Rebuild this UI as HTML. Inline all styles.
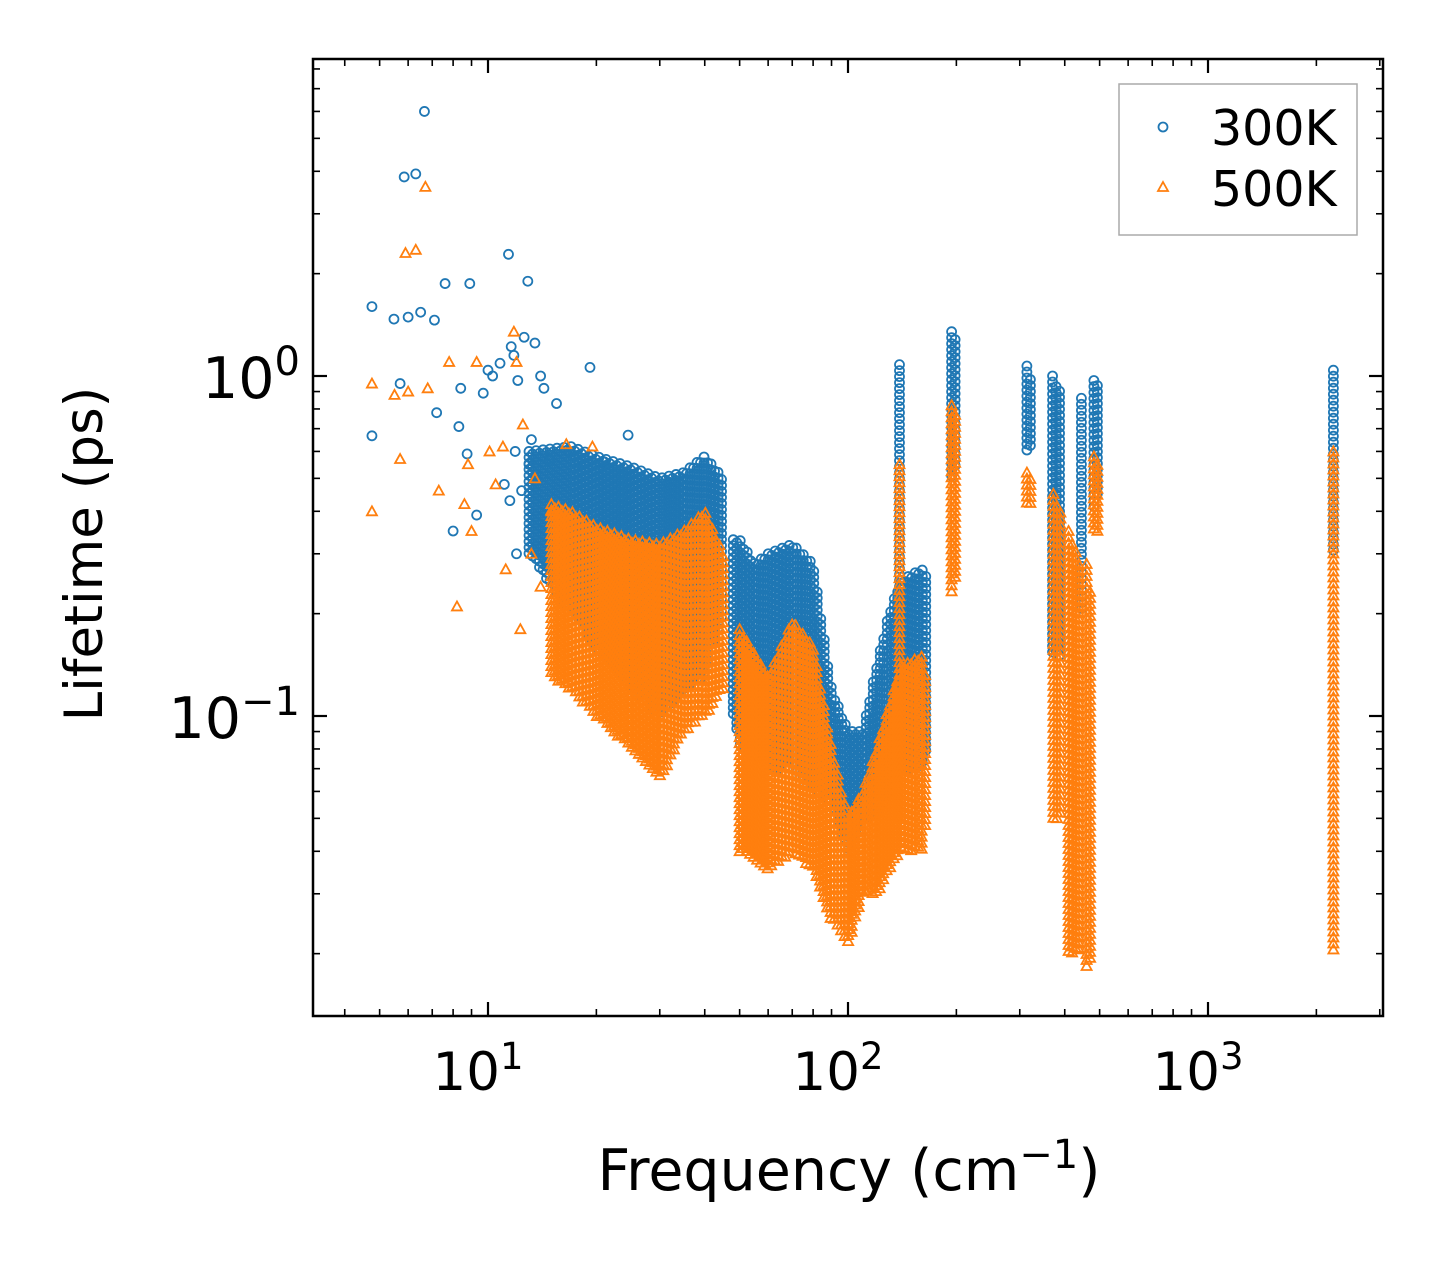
<!DOCTYPE html>
<html><head><meta charset="utf-8"><style>
body{margin:0;background:#fff;}
svg text{font-family:"DejaVu Sans","Liberation Sans",sans-serif;fill:#000;}
</style></head><body>
<svg id="chart" width="1442" height="1265" viewBox="0 0 1442 1265" xmlns="http://www.w3.org/2000/svg">
<rect width="1442" height="1265" fill="#fff"/>
<g id="marks"></g>
<g id="axes"></g>
<text transform="translate(102,554) rotate(-90)" text-anchor="middle" font-size="53">Lifetime (ps)</text>
<text x="849" y="1190" text-anchor="middle" font-size="57">Frequency (cm<tspan dy="-22" font-size="40">−1</tspan><tspan dy="22">)</tspan></text>
<g>
<rect x="1119" y="84" width="238" height="151" fill="#fff" stroke="#aaa" stroke-width="1.5"/>
<circle cx="1163" cy="127" r="4.5" fill="none" stroke="#1f77b4" stroke-width="1.8"/>
<text x="1211" y="145" font-size="49">300K</text>
<polygon points="1163,182 1168,191 1158,191" fill="none" stroke="#ff7f0e" stroke-width="1.8"/>
<text x="1211" y="206" font-size="49">500K</text>
</g>
</svg>
<script>
// sparse points [freq, lifetime]
const sparse300 = [[4.76,0.667],[4.76,1.6],[5.48,1.47],[6.0,1.49],[5.7,0.95],[5.85,3.85],[6.3,3.93],[6.66,6.0],[6.5,1.54],[7.1,1.46],[7.6,1.87],[7.2,0.78],[8.9,1.87],[8.4,0.92],[8.3,0.71],[8.0,0.35],[8.75,0.59],[9.3,0.39],[9.7,0.89],[10.0,1.04],[10.3,1.0],[10.8,1.09],[11.1,0.48],[11.4,2.28],[11.6,1.22],[11.8,1.15],[12.1,0.97],[12.9,1.9],[13.5,1.25],[12.6,1.3],[11.9,0.6],[12.4,0.46],[13.0,0.55],[14.0,1.0],[14.3,0.92],[15.5,0.83],[19.2,1.06],[24.5,0.67],[12.0,0.3],[11.5,0.43],[13.2,0.65],[14.8,0.57],[16.8,0.6],[18.5,0.55],[21,0.56]];
const sparse500 = [[4.76,0.95],[4.76,0.4],[5.5,0.88],[5.7,0.57],[6.0,0.9],[5.9,2.3],[6.3,2.35],[6.7,3.6],[6.8,0.92],[7.3,0.46],[7.8,1.1],[8.2,0.21],[8.6,0.42],[8.8,0.55],[9.0,0.35],[9.3,1.1],[10.1,0.6],[10.5,0.48],[11.0,0.62],[11.2,0.27],[11.8,1.35],[12.0,1.1],[12.3,0.18],[12.5,0.72],[13.2,0.3],[14.0,0.24],[16.5,0.63],[19.5,0.62],[13.5,0.5],[15,0.4]];
// dense bands: [freq, low, high]
const band300 = [[[13,0.3,0.6],[17,0.2,0.62],[20,0.16,0.58],[25,0.12,0.54],[30,0.1,0.5],[35,0.12,0.52],[40,0.13,0.58],[45,0.2,0.5]],
 [[48,0.1,0.33],[50,0.08,0.33],[55,0.075,0.28],[60,0.07,0.3],[70,0.07,0.32],[80,0.06,0.28],[90,0.055,0.12],[100,0.04,0.09],[110,0.05,0.09],[120,0.05,0.14],[130,0.06,0.2],[140,0.07,0.25],[160,0.07,0.27],[166,0.08,0.26]],
 [[139,0.2,1.08],[141,0.2,1.0]],[[194,0.5,1.35],[199,0.55,1.3]],[[314,0.6,1.07],[326,0.6,0.95]],[[370,0.15,1.0],[395,0.15,0.86]],[[445,0.2,0.86],[455,0.3,0.8]],[[482,0.4,0.97],[498,0.45,0.95]],[[2230,0.3,1.04],[2245,0.3,1.0]]];
const band500 = [[[15,0.13,0.42],[17,0.12,0.4],[20,0.1,0.36],[25,0.08,0.33],[30,0.065,0.32],[35,0.09,0.35],[40,0.1,0.4],[45,0.12,0.3]],
 [[50,0.04,0.18],[60,0.035,0.13],[70,0.04,0.19],[80,0.035,0.16],[90,0.025,0.08],[100,0.021,0.05],[110,0.03,0.06],[120,0.03,0.08],[140,0.04,0.14],[160,0.04,0.15],[165,0.05,0.13]],
 [[139,0.05,0.55],[141,0.05,0.5]],[[194,0.23,0.82],[199,0.25,0.78]],[[314,0.42,0.52],[326,0.42,0.5]],[[372,0.05,0.45],[395,0.05,0.38]],[[410,0.02,0.35],[440,0.02,0.28]],[[460,0.018,0.28],[475,0.02,0.22]],[[482,0.35,0.58],[498,0.35,0.55]],[[2230,0.02,0.6],[2245,0.02,0.55]]];
const xTicks = [10,100,1000];
const xTickLabels = ["1","2","3"];
const yTicks = [0.1,1];
const yTickLabels = ["−1","0"];

const L=313,R=1383,T=59,B=1016;
const X=f=>488+360*(Math.log10(f)-1);
const Y=v=>376-340*Math.log10(v);
const NS='http://www.w3.org/2000/svg';
const marks=document.getElementById('marks'), axes=document.getElementById('axes');
function circ(f,v){const c=document.createElementNS(NS,'circle');


c.setAttribute('cx',X(f));c.setAttribute('cy',Y(v));c.setAttribute('r',4.5);c.setAttribute('fill','none');c.setAttribute('stroke','#1f77b4');c.setAttribute('stroke-width',1.8);marks.appendChild(c);}
function tri(f,v){const p=document.createElementNS(NS,'polygon');


const x=X(f),y=Y(v);p.setAttribute('points',`${x},${y-5} ${x+5},${y+4} ${x-5},${y+4}`);p.setAttribute('fill','none');p.setAttribute('stroke','#ff7f0e');p.setAttribute('stroke-width',1.8);marks.appendChild(p);}
function drawBand(seg,fn){
 const x0=X(seg[0][0]),x1=X(seg[seg.length-1][0]);
 let col=0;
 for(let x=x0;x<=x1+0.01;x+=3.5){
  let i=0;while(i<seg.length-2&&X(seg[i+1][0])<x)i++;
  const a=seg[i],b=seg[i+1]||seg[i];const xa=X(a[0]),xb=X(b[0]);const t=xb>xa?(x-xa)/(xb-xa):0;
  const ylo=Y(a[1])+(Y(b[1])-Y(a[1]))*t, yhi=Y(a[2])+(Y(b[2])-Y(a[2]))*t;
  const f=Math.pow(10,(x-488)/360+1);
  for(let y=yhi+(col%2)*3;y<=ylo;y+=6){fn(f,Math.pow(10,(376-y)/340));}
  col++;
 }}
sparse300.forEach(p=>circ(p[0],p[1]));
band300.forEach(s=>drawBand(s,circ));
sparse500.forEach(p=>tri(p[0],p[1]));
band500.forEach(s=>drawBand(s,tri));
const fr=document.createElementNS(NS,'rect');


fr.setAttribute('x',L);fr.setAttribute('y',T);fr.setAttribute('width',R-L);fr.setAttribute('height',B-T);fr.setAttribute('fill','none');fr.setAttribute('stroke','#000');fr.setAttribute('stroke-width',2.5);axes.appendChild(fr);
function line(x1,y1,x2,y2,w){const l=document.createElementNS(NS,'line');


l.setAttribute('x1',x1);l.setAttribute('y1',y1);l.setAttribute('x2',x2);l.setAttribute('y2',y2);l.setAttribute('stroke','#000');l.setAttribute('stroke-width',w);axes.appendChild(l);}
for(let d=0;d<=3;d++)for(let m=1;m<10;m++){const f=m*Math.pow(10,d);const x=X(f);if(x<L||x>R)continue;const len=m==1?14:7,w=m==1?2.2:1.6;line(x,B,x,B-len,w);line(x,T,x,T+len,w);}
for(let d=-2;d<=0;d++)for(let m=1;m<10;m++){const v=m*Math.pow(10,d);const y=Y(v);if(y<T||y>B)continue;const len=m==1?14:7,w=m==1?2.2:1.6;line(L,y,L+len,y,w);line(R,y,R-len,y,w);}
xTicks.forEach((v,i)=>{const t=document.createElementNS(NS,'text');


t.setAttribute('x',X(v)-10);t.setAttribute('y',1090);t.setAttribute('text-anchor','middle');t.setAttribute('font-size',53);
t.innerHTML=`10<tspan dy="-21" font-size="37">${xTickLabels[i]}</tspan>`;axes.appendChild(t);});
yTicks.forEach((v,i)=>{const t=document.createElementNS(NS,'text');


t.setAttribute('x',300);t.setAttribute('y',Y(v)+22);t.setAttribute('text-anchor','end');t.setAttribute('font-size',57);
t.innerHTML=`10<tspan dy="-23" font-size="40">${yTickLabels[i]}</tspan>`;axes.appendChild(t);});
</script>
</body></html>
